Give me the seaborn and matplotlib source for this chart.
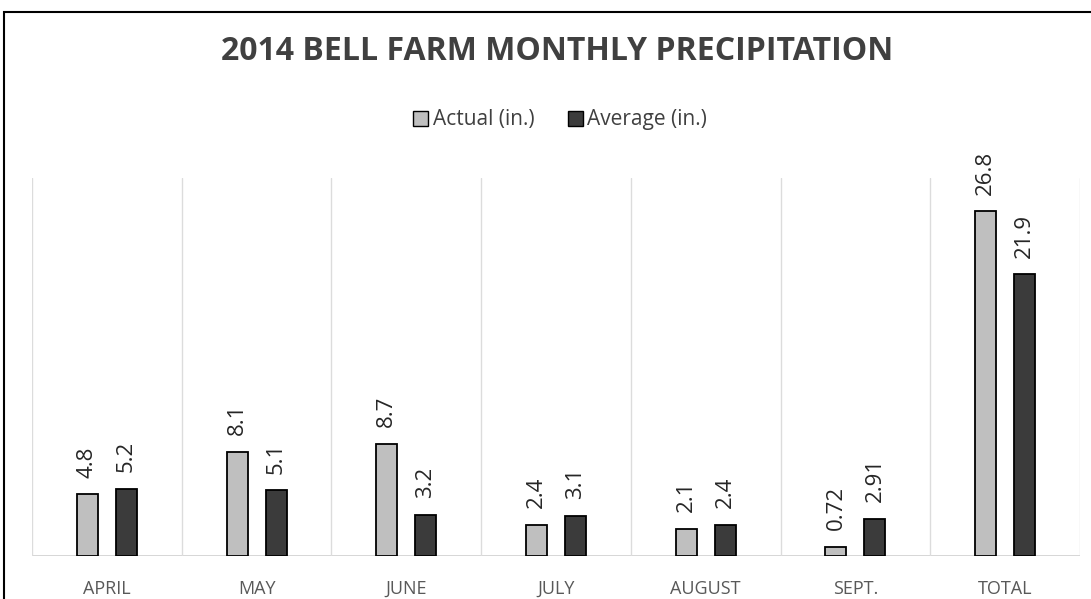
import numpy as np
import pandas as pd
import matplotlib
matplotlib.use("Agg")
import matplotlib.pyplot as plt
import seaborn as sns
from matplotlib.patches import Rectangle

months = ["APRIL", "MAY", "JUNE", "JULY", "AUGUST", "SEPT.", "TOTAL"]
actual = [4.8, 8.1, 8.7, 2.4, 2.1, 0.72, 26.8]
average = [5.2, 5.1, 3.2, 3.1, 2.4, 2.91, 21.9]
series = ["Actual (in.)", "Average (in.)"]

df = pd.DataFrame({
    "month": months * 2,
    "value": actual + average,
    "series": [series[0]] * len(months) + [series[1]] * len(months),
})

sns.set_style("white")
plt.rcParams["font.family"] = ["Open Sans", "DejaVu Sans"]

fig = plt.figure(figsize=(10.91, 5.99), dpi=100)
ax = fig.add_axes([32 / 1091, 1 - 556 / 599, 1048 / 1091, 378 / 599])

sns.barplot(data=df, x="month", y="value", hue="series", order=months,
            palette=["#bfbfbf", "#3b3b3b"], width=0.52, gap=0.46,
            edgecolor="black", linewidth=1.3, ax=ax, legend=False)

for c in ax.containers:
    ax.bar_label(c, fmt="%g", rotation=90, padding=12, fontsize=16, color="#262626")

ax.set_xlim(-0.5, len(months) - 0.5)
ax.set_ylim(0, 29.4)
ax.set_yticks([])
ax.set_xlabel("")
ax.set_ylabel("")
ax.tick_params(axis="x", length=0, pad=17, labelsize=13, labelcolor="#595959")
ax.set_xticks(np.arange(-0.5, len(months)), minor=True)
ax.grid(which="minor", axis="x", color="#dcdcdc", linewidth=1)
ax.tick_params(which="minor", length=0)
for s in ax.spines.values():
    s.set_visible(False)
ax.axhline(0, color="#d0d0d0", linewidth=1.2, zorder=0)

# legend
handles = [Rectangle((0, 0), 1, 1, facecolor=col, edgecolor="black", linewidth=1)
           for col in ["#bfbfbf", "#3b3b3b"]]
fig.legend(handles, series, loc="center", bbox_to_anchor=(560 / 1091, 1 - 120 / 599),
           ncol=2, frameon=False, fontsize=15, handlelength=0.75, handleheight=0.75,
           handletextpad=0.2, columnspacing=1.6, labelcolor="#404040")

fig.text(557 / 1091, 1 - 52 / 599, "2014 BELL FARM MONTHLY PRECIPITATION",
         ha="center", va="center", fontsize=23, fontweight="bold", color="#404040")

fig.patches.append(Rectangle((4 / 1091, -0.1), 1.2, 1.1 - 12 / 599, transform=fig.transFigure,
                             fill=False, edgecolor="black", linewidth=1.5))

fig.savefig("out.png", dpi=100)
